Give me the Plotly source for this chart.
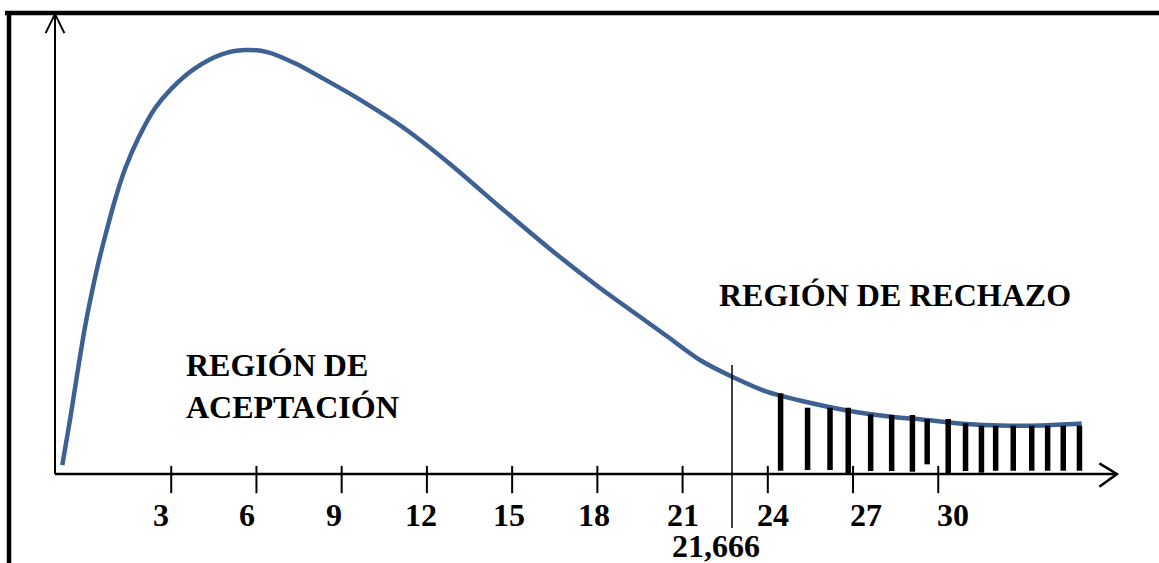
import plotly.graph_objects as go

# ---------------- data ----------------
# density-like curve (relative height, peak ~100)
curve_x = [-0.834, -0.563, -0.292, -0.035, 0.201, 0.433, 0.669, 1.021, 1.373, 1.841,
           2.429, 3.017, 3.837, 4.776, 5.597, 6.417, 7.356, 8.296, 9.468, 11.288,
           12.812, 14.572, 16.332, 18.092, 19.264, 20.440, 21.612, 22.784, 23.960, 25.132,
           26.832, 28.360, 29.592, 31.000, 32.172, 33.580, 35.048]
curve_y = [2.11, 12.68, 24.18, 34.51, 42.42, 49.46, 55.70, 64.32, 71.60, 78.80,
           85.85, 90.54, 95.23, 98.52, 99.53, 98.99, 96.41, 93.03, 88.57, 80.75,
           72.77, 62.68, 52.82, 43.66, 38.03, 32.39, 26.76, 22.70, 19.32, 17.25,
           14.86, 13.45, 12.68, 11.74, 11.38, 11.38, 11.85]

# hatching bars of the rejection region
hatch_x = [24.45, 25.40, 26.19, 26.83, 27.62, 28.36, 29.09, 29.61, 30.35, 30.96,
           31.52, 32.02, 32.64, 33.29, 33.85, 34.40, 34.97]
hatch_top = [18.94, 15.56, 15.56, 15.56, 14.01, 13.85, 13.85, 12.91, 12.91, 11.90,
             11.34, 11.34, 11.34, 11.34, 11.34, 11.34, 11.34]
hatch_bottom = [0.77, 0.94, 0.94, 0.16, 0.70, 0.70, 0.54, 2.27, 0.16, 0.70,
                0.31, 0.77, 0.77, 0.77, 0.77, 0.77, 0.77]

tick_values = [3, 6, 9, 12, 15, 18, 21, 24, 27, 30]
tick_labels = ["3", "6", "9", "12", "15", "18", "21", "24", "27", "30"]

critical_x = 22.74
critical_label = "21,666"

label_accept = "REGIÓN DE<br>ACEPTACIÓN"
label_reject = "REGIÓN DE RECHAZO"

# ---------------- layout constants ----------------
W, H = 1159, 563
X_RANGE = [-3.027, 37.77]
Y_RANGE = [-20.89, 111.27]
AX_X0, AX_X1 = -1.091, 36.29      # x-axis line extent
AX_Y1 = 108.0                     # y-axis top
FONT = "Liberation Serif"
BLUE = "#3D6193"
FS = 32

fig = go.Figure()

# curve
fig.add_trace(go.Scatter(x=curve_x, y=curve_y, mode="lines",
                         line=dict(color=BLUE, width=4.5, shape="spline", smoothing=0.9),
                         hoverinfo="skip"))

# hatch bars
hx, hy = [], []
for x, t, b in zip(hatch_x, hatch_top, hatch_bottom):
    hx += [x, x, None]
    hy += [b, t, None]
fig.add_trace(go.Scatter(x=hx, y=hy, mode="lines",
                         line=dict(color="black", width=5.5), hoverinfo="skip"))

# tick marks (crossing the axis)
tx, ty = [], []
for v in tick_values:
    tx += [v, v, None]
    ty += [1.9, -4.5, None]
fig.add_trace(go.Scatter(x=tx, y=ty, mode="lines",
                         line=dict(color="black", width=2), hoverinfo="skip"))

# critical value line
fig.add_trace(go.Scatter(x=[critical_x, critical_x], y=[25.6, -12.7], mode="lines",
                         line=dict(color="black", width=1.5), hoverinfo="skip"))

shapes = []
# axes
shapes.append(dict(type="line", xref="x", yref="y", x0=AX_X0, y0=0, x1=AX_X1, y1=0,
                   line=dict(color="black", width=2.5)))
shapes.append(dict(type="line", xref="x", yref="y", x0=AX_X0, y0=0, x1=AX_X0, y1=AX_Y1,
                   line=dict(color="black", width=2)))
# arrow heads
shapes.append(dict(type="path", xref="x", yref="y",
                   path=f"M {AX_X1-0.62},2.5 L {AX_X1},0 L {AX_X1-0.62},-3.0",
                   line=dict(color="black", width=2.5)))
shapes.append(dict(type="path", xref="x", yref="y",
                   path=f"M {AX_X0-0.33},{AX_Y1-4.5} L {AX_X0},{AX_Y1} L {AX_X0+0.33},{AX_Y1-4.5}",
                   line=dict(color="black", width=2)))
# frame (top and left thick borders)
shapes.append(dict(type="line", xref="paper", yref="paper",
                   x0=5 / W, x1=1.0, y0=1 - 13 / H, y1=1 - 13 / H,
                   line=dict(color="black", width=4.5)))
shapes.append(dict(type="line", xref="paper", yref="paper",
                   x0=9 / W, x1=9 / W, y0=1 - 11 / H, y1=0,
                   line=dict(color="black", width=4.5)))

font = dict(family=FONT, size=FS, color="black", weight="bold")
annotations = []
label_xshift = [-10, -9, -8, -6, -3, -3, 0, 5, 13, 15]
for v, t, s in zip(tick_values, tick_labels, label_xshift):
    annotations.append(dict(x=v, y=-9.6, xref="x", yref="y", text=t, showarrow=False,
                            xanchor="center", yanchor="middle", xshift=s, font=font))
annotations.append(dict(x=critical_x, y=-17.0, xref="x", yref="y", text=critical_label,
                        showarrow=False, xanchor="center", yanchor="middle", xshift=-16,
                        font=font))
annotations.append(dict(x=3.45, y=20.7, xref="x", yref="y", text=label_accept,
                        showarrow=False, xanchor="left", yanchor="middle", align="left",
                        font=font))
annotations.append(dict(x=28.48, y=42.0, xref="x", yref="y", text=label_reject,
                        showarrow=False, xanchor="center", yanchor="middle", font=font))

fig.update_layout(
    width=W, height=H,
    margin=dict(l=0, r=0, t=0, b=0),
    paper_bgcolor="white", plot_bgcolor="white",
    showlegend=False, hovermode=False,
    xaxis=dict(range=X_RANGE, visible=False, fixedrange=True),
    yaxis=dict(range=Y_RANGE, visible=False, fixedrange=True),
    shapes=shapes, annotations=annotations,
)

fig.write_html("out.html", config={"displayModeBar": False},
               post_script="document.body.style.margin='0';document.body.style.overflow='hidden';")
